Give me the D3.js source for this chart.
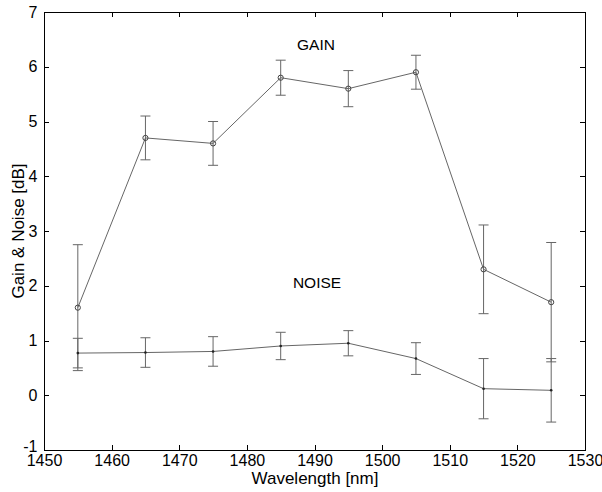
<!DOCTYPE html>
<html>
<head>
<meta charset="utf-8">
<script src="https://cdn.jsdelivr.net/npm/d3@7"></script>
<style>
  html, body { margin: 0; padding: 0; background: #fff; }
  svg { display: block; font-family: "Liberation Sans", Arial, sans-serif; }
</style>
</head>
<body>
<svg id="chart" width="602" height="492"></svg>
<script>
// Measurement wavelengths (nm)
const wavelengths = [1455, 1465, 1475, 1485, 1495, 1505, 1515, 1525];
// Gain (dB) and its error half-width
const gain = [1.6, 4.7, 4.6, 5.8, 5.6, 5.9, 2.3, 1.7];
const gainErr = [1.15, 0.4, 0.4, 0.32, 0.33, 0.31, 0.81, 1.09];
// Noise (dB) and its error half-width
const noise = [0.77, 0.78, 0.8, 0.9, 0.95, 0.67, 0.12, 0.09];
const noiseErr = [0.27, 0.27, 0.27, 0.25, 0.23, 0.29, 0.55, 0.58];
// Axis ticks
const xTicks = [1450, 1460, 1470, 1480, 1490, 1500, 1510, 1520, 1530];
const yTicks = [-1, 0, 1, 2, 3, 4, 5, 6, 7];

const svg = d3.select("#chart");
const plotL = 44, plotR = 585, plotT = 12, plotB = 450;

const x = d3.scaleLinear().domain([1450, 1530]).range([plotL, plotR]);
const y = d3.scaleLinear().domain([-1, 7]).range([plotB, plotT]);

const tickLen = 5;
const fs = 16;
const plain = d => String(d);

// Frame
svg.append("rect")
  .attr("x", plotL).attr("y", plotT)
  .attr("width", plotR - plotL).attr("height", plotB - plotT)
  .attr("fill", "none").attr("stroke", "#000").attr("stroke-width", 1)
  .attr("shape-rendering", "crispEdges");

// Inward ticks on all four sides, labels on bottom and left
const axB = d3.axisBottom(x).tickValues(xTicks).tickFormat(plain).tickSizeInner(-tickLen).tickSizeOuter(0).tickPadding(5);
const axT = d3.axisTop(x).tickValues(xTicks).tickSizeInner(-tickLen).tickSizeOuter(0).tickFormat("");
const axL = d3.axisLeft(y).tickValues(yTicks).tickFormat(plain).tickSizeInner(-tickLen).tickSizeOuter(0).tickPadding(6.5);
const axR = d3.axisRight(y).tickValues(yTicks).tickSizeInner(-tickLen).tickSizeOuter(0).tickFormat("");

function styleAxis(g) {
  g.attr("font-size", fs).attr("font-family", "Liberation Sans, Arial, sans-serif");
  g.select(".domain").remove();
  g.selectAll(".tick line").attr("stroke", "#000").attr("shape-rendering", "crispEdges");
  g.selectAll(".tick text").attr("fill", "#000");
}

svg.append("g").attr("transform", `translate(0,${plotB})`).call(axB).call(styleAxis);
svg.append("g").attr("transform", `translate(0,${plotT})`).call(axT).call(styleAxis);
const gLeft = svg.append("g").attr("transform", `translate(${plotL},0)`).call(axL).call(styleAxis);
svg.append("g").attr("transform", `translate(${plotR},0)`).call(axR).call(styleAxis);

// The lowest y label sits just above the corner so it clears the first x label
gLeft.selectAll(".tick text").filter(d => d === yTicks[0]).attr("y", -4);

// Axis titles
svg.append("text")
  .attr("x", 315).attr("y", 484)
  .attr("text-anchor", "middle").attr("font-size", 17)
  .text("Wavelength [nm]");

svg.append("text")
  .attr("transform", `translate(24,${(plotT + plotB) / 2}) rotate(-90)`)
  .attr("text-anchor", "middle").attr("font-size", 17)
  .text("Gain & Noise [dB]");

const lineColor = "#666";
const capHalf = 5;

function drawSeries(vals, errs, marker) {
  const pts = wavelengths.map((w, i) => ({ w, v: vals[i], e: errs[i] }));
  const g = svg.append("g");

  // Error bars
  const eb = g.selectAll("g.eb").data(pts).enter().append("g");
  eb.append("line")
    .attr("x1", d => x(d.w)).attr("x2", d => x(d.w))
    .attr("y1", d => y(d.v + d.e)).attr("y2", d => y(d.v - d.e))
    .attr("stroke", lineColor).attr("stroke-width", 1);
  [1, -1].forEach(s => {
    eb.append("line")
      .attr("x1", d => x(d.w) - capHalf).attr("x2", d => x(d.w) + capHalf)
      .attr("y1", d => y(d.v + s * d.e)).attr("y2", d => y(d.v + s * d.e))
      .attr("stroke", lineColor).attr("stroke-width", 1);
  });

  // Connecting line
  g.append("path")
    .datum(pts)
    .attr("d", d3.line().x(d => x(d.w)).y(d => y(d.v)))
    .attr("fill", "none").attr("stroke", lineColor).attr("stroke-width", 1);

  // Markers
  if (marker === "circle") {
    g.selectAll("circle").data(pts).enter().append("circle")
      .attr("cx", d => x(d.w)).attr("cy", d => y(d.v)).attr("r", 2.6)
      .attr("fill", "none").attr("stroke", "#444").attr("stroke-width", 1);
  } else {
    g.selectAll("circle").data(pts).enter().append("circle")
      .attr("cx", d => x(d.w)).attr("cy", d => y(d.v)).attr("r", 1.3)
      .attr("fill", "#222");
  }
}

drawSeries(gain, gainErr, "circle");
drawSeries(noise, noiseErr, "dot");

// Series annotations
svg.append("text").attr("x", 316).attr("y", 50)
  .attr("text-anchor", "middle").attr("font-size", 15.5).text("GAIN");
svg.append("text").attr("x", 317).attr("y", 288)
  .attr("text-anchor", "middle").attr("font-size", 15.5).text("NOISE");
</script>
</body>
</html>
